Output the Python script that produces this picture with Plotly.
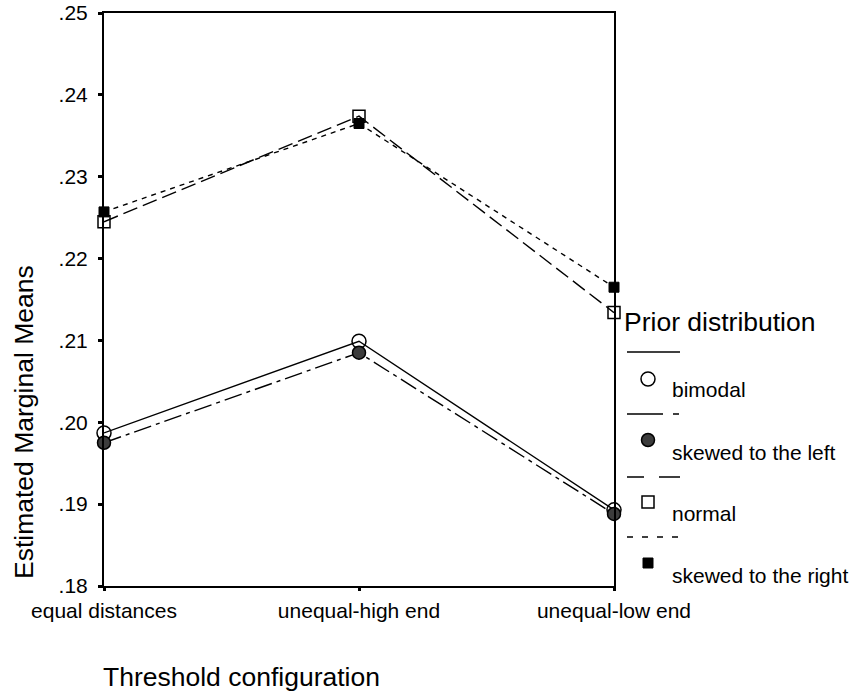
import plotly.graph_objects as go

# Estimated marginal means by threshold configuration and prior distribution
categories = ["equal distances", "unequal-high end", "unequal-low end"]
bimodal = [0.1987, 0.2099, 0.1893]
skewed_left = [0.1975, 0.2085, 0.1888]
normal = [0.2245, 0.2374, 0.2134]
skewed_right = [0.2257, 0.2365, 0.2165]

y_tickvals = [0.18, 0.19, 0.20, 0.21, 0.22, 0.23, 0.24, 0.25]
y_ticktext = [".18", ".19", ".20", ".21", ".22", ".23", ".24", ".25"]

series_names = ["bimodal", "skewed to the left", "normal", "skewed to the right"]
series_values = [bimodal, skewed_left, normal, skewed_right]

W, H = 861, 696
FONT = "Liberation Sans, Arial, sans-serif"
TICK_SIZE = 21
TITLE_SIZE = 26.5

# plot box in pixels
L, R, T, B = 104, 614, 13, 586


def px(x):
    return (x - L) / (R - L)


def py(y):
    return (B - y) / (B - T)


styles = [
    dict(dash="solid", symbol="circle-open", color="black", size=14, mline=1.5,
         leg_dash="solid"),
    dict(dash="18px,5px,4px,5px", symbol="circle", color="#3c3c3c", size=13, mline=1.5,
         leg_dash="36px,10px,6px,10px"),
    dict(dash="15px,6px", symbol="square-open", color="black", size=12, mline=1.5,
         leg_dash="17px,15px,21px"),
    dict(dash="5px,5px", symbol="square", color="black", size=10, mline=1,
         leg_dash="6px,9px"),
]

fig = go.Figure()
xs = list(range(len(categories)))
for name, vals, st in zip(series_names, series_values, styles):
    fig.add_trace(go.Scatter(
        x=xs, y=vals, mode="lines+markers", name=name,
        line=dict(color="black", width=1.4, dash=st["dash"]),
        marker=dict(symbol=st["symbol"], size=st["size"], color=st["color"],
                    line=dict(color="black", width=st["mline"])),
        cliponaxis=False, showlegend=False,
    ))

# hand-built legend: line sample, marker, then label for each series
leg_line_y = [352, 414, 477, 537]
leg_mark_y = [379, 440, 502, 563]
leg_text_y = [390, 452, 513, 575]
mark_x = 648
for i, (name, st) in enumerate(zip(series_names, styles)):
    fig.add_shape(type="line", xref="paper", yref="paper",
                  x0=px(627), x1=px(680), y0=py(leg_line_y[i]), y1=py(leg_line_y[i]),
                  line=dict(color="black", width=1.4, dash=st["leg_dash"]))
    r = st["size"] / 2
    shape_type = "circle" if "circle" in st["symbol"] else "rect"
    fill = "white" if "open" in st["symbol"] else st["color"]
    fig.add_shape(type=shape_type, xref="paper", yref="paper",
                  xsizemode="pixel", ysizemode="pixel",
                  xanchor=px(mark_x), yanchor=py(leg_mark_y[i]),
                  x0=-r, x1=r, y0=-r, y1=r,
                  fillcolor=fill, line=dict(color="black", width=st["mline"]))
    fig.add_annotation(x=px(670), y=py(leg_text_y[i]), xref="paper", yref="paper",
                       text=name, showarrow=False, xanchor="left", yanchor="middle",
                       font=dict(size=TICK_SIZE, color="black", family=FONT))

fig.add_annotation(x=px(622), y=py(322), xref="paper", yref="paper",
                   text="Prior distribution", showarrow=False,
                   xanchor="left", yanchor="middle",
                   font=dict(size=TITLE_SIZE, color="black", family=FONT))

# axis titles
fig.add_annotation(x=px(24), y=py(422), xref="paper", yref="paper",
                   text="Estimated Marginal Means", showarrow=False, textangle=-90,
                   xanchor="center", yanchor="middle",
                   font=dict(size=TITLE_SIZE, color="black", family=FONT))
fig.add_annotation(x=px(101), y=py(677), xref="paper", yref="paper",
                   text="Threshold configuration", showarrow=False,
                   xanchor="left", yanchor="middle",
                   font=dict(size=TITLE_SIZE, color="black", family=FONT))

fig.update_layout(
    width=W, height=H,
    margin=dict(l=L, r=W - R, t=T, b=H - B, autoexpand=False),
    paper_bgcolor="white", plot_bgcolor="white",
    font=dict(family=FONT, color="black"),
    xaxis=dict(
        range=[0, 2], tickvals=xs, ticktext=categories,
        ticks="outside", ticklen=3, tickwidth=3, tickcolor="black",
        showline=True, linecolor="black", linewidth=2, mirror=True,
        showgrid=False, zeroline=False, automargin=False,
        ticklabelstandoff=2,
        tickfont=dict(size=TICK_SIZE, color="black", family=FONT),
    ),
    yaxis=dict(
        range=[0.18, 0.25], tickvals=y_tickvals, ticktext=y_ticktext,
        ticks="outside", ticklen=4, tickwidth=3, tickcolor="black",
        showline=True, linecolor="black", linewidth=2, mirror=True,
        showgrid=False, zeroline=False, automargin=False,
        ticklabelstandoff=6,
        tickfont=dict(size=TICK_SIZE, color="black", family=FONT),
    ),
)

fig.write_html("out.html")
